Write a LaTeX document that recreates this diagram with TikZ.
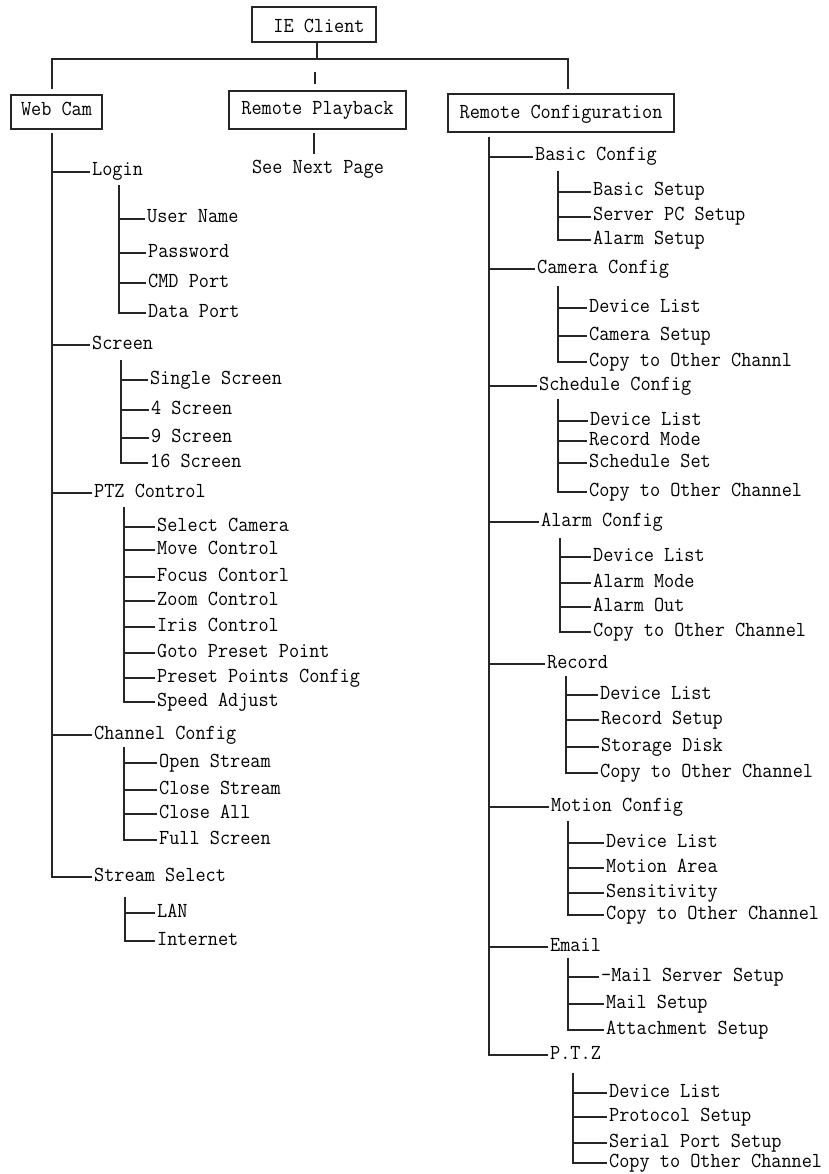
\documentclass[tikz,border=0pt]{standalone}
\usepackage{fontspec}
\newfontfamily\diagfont[FakeStretch=0.92]{Latin Modern Mono}
\begin{document}
\begin{tikzpicture}[x=1pt,y=-1pt,
  every node/.style={font=\fontsize{21.4}{24}\diagfont, text height=11pt, text depth=3pt, text=black},
  lbl/.style={anchor=west, inner xsep=2pt, inner ysep=0pt},
  boxnode/.style={draw=black!85, line width=1.1pt, inner sep=0pt},
  conn/.style={line width=1.1pt, draw=black!85}]
\useasboundingbox (0,0) rectangle (829,1174);
% boxes
\node[boxnode, minimum width=124pt, minimum height=35pt] (ie) at (314,24.5) {\hspace*{10pt}\raisebox{-4pt}{IE Client}};
\node[boxnode, minimum width=91pt, minimum height=34pt] (wc) at (56.5,112) {Web Cam};
\node[boxnode, minimum width=177pt, minimum height=38pt] (rp) at (317.5,110) {\raisebox{-1pt}{Remote Playback}};
\node[boxnode, minimum width=226pt, minimum height=38pt] (rc) at (561,113) {\raisebox{-2pt}{Remote Configuration}};
\node (snp) at (318,170) {See Next Page};
% top connectors
\coordinate (hub) at (317,59);
\coordinate (wcTop) at (52,89);
\coordinate (rcTop) at (568,89);
\coordinate (midA) at (315,72);
\coordinate (midB) at (315,84);
\coordinate (rpA) at (314,133);
\coordinate (rpB) at (314,154);
\draw[conn] (ie.south -| hub) -- (hub);
\draw[conn] (wcTop) |- (hub) -| (rcTop);
\draw[conn] (midA) -- (midB);
\draw[conn] (rpA) -- (rpB);
% bars
\coordinate (wcBar) at (52,133);
\coordinate (rcBar) at (489,137);
\coordinate (loginBar) at (119,185);
\coordinate (screenBar) at (121,360);
\coordinate (ptzBar) at (124,507);
\coordinate (chanBar) at (124,747);
\coordinate (strmBar) at (125,897);
\coordinate (basicBar) at (558,171);
\coordinate (cameraBar) at (558,286);
\coordinate (schedBar) at (558,399);
\coordinate (alarmBar) at (560,538);
\coordinate (recordBar) at (566,676);
\coordinate (motionBar) at (568,821);
\coordinate (emailBar) at (568,958);
\coordinate (pptzBar) at (573,1073);
% Web Cam
\foreach \n/\x/\y/\t in {login/90/172/Login, screen/90/345/Screen, ptz/92/493/PTZ Control, chan/92/735/Channel Config, strm/92/877/Stream Select}
  {\node[lbl] (\n) at (\x,\y) {\t}; \draw[conn] (wcBar) |- (\n.west);}
\foreach \n/\x/\y/\t in {user/145/219/User Name, pass/146/253/Password, cmd/146/283/CMD Port, data/146/313/Data Port}
  {\node[lbl] (\n) at (\x,\y) {\t}; \draw[conn] (loginBar) |- (\n.west);}
\foreach \n/\x/\y/\t in {single/148/380/Single Screen, sfour/149/410/4 Screen, snine/149/438/9 Screen, ssixteen/148/463/16 Screen}
  {\node[lbl] (\n) at (\x,\y) {\t}; \draw[conn] (screenBar) |- (\n.west);}
\foreach \n/\x/\y/\t in {selcam/155/527/Select Camera, movec/155/550/Move Control, focusc/155/577/Focus Contorl, zoomc/155/601/Zoom Control, irisc/155/627/Iris Control, gotop/155/653/Goto Preset Point, presetc/155/678/Preset Points Config, speeda/155/702/Speed Adjust}
  {\node[lbl] (\n) at (\x,\y) {\t}; \draw[conn] (ptzBar) |- (\n.west);}
\foreach \n/\x/\y/\t in {opens/157/763/Open Stream, closes/157/790/Close Stream, closea/157/814/Close All, fulls/157/840/Full Screen}
  {\node[lbl] (\n) at (\x,\y) {\t}; \draw[conn] (chanBar) |- (\n.west);}
\foreach \n/\x/\y/\t in {lan/155/913/LAN, inet/155/941/Internet}
  {\node[lbl] (\n) at (\x,\y) {\t}; \draw[conn] (strmBar) |- (\n.west);}
% Remote Configuration
\foreach \n/\x/\y/\t in {basic/533/157/Basic Config, camera/535/269/Camera Config, sched/537/386/Schedule Config, alarm/539/522/Alarm Config, record/545/664/Record, motion/549/807/Motion Config, email/548/947/Email, pptz/548/1055/P.T.Z}
  {\node[lbl] (\n) at (\x,\y) {\t}; \draw[conn] (rcBar) |- (\n.west);}
\foreach \n/\x/\y/\t in {bsetup/591/192/Basic Setup, spc/591/217/Server PC Setup, asetup/591/240/Alarm Setup}
  {\node[lbl] (\n) at (\x,\y) {\t}; \draw[conn] (basicBar) |- (\n.west);}
\foreach \n/\x/\y/\t in {cdl/587/308/Device List, csetup/587/336/Camera Setup, ccopy/587/362/Copy to Other Channl}
  {\node[lbl] (\n) at (\x,\y) {\t}; \draw[conn] (cameraBar) |- (\n.west);}
\foreach \n/\x/\y/\t in {sdl/588/421/Device List, srm/587/441/Record Mode, sss/587/463/Schedule Set, scopy/587/492/Copy to Other Channel}
  {\node[lbl] (\n) at (\x,\y) {\t}; \draw[conn] (schedBar) |- (\n.west);}
\foreach \n/\x/\y/\t in {adl/591/557/Device List, amode/591/583/Alarm Mode, aout/591/607/Alarm Out, acopy/591/632/Copy to Other Channel}
  {\node[lbl] (\n) at (\x,\y) {\t}; \draw[conn] (alarmBar) |- (\n.west);}
\foreach \n/\x/\y/\t in {rdl/598/695/Device List, rsetup/599/720/Record Setup, rdisk/599/747/Storage Disk, rcopy/598/773/Copy to Other Channel}
  {\node[lbl] (\n) at (\x,\y) {\t}; \draw[conn] (recordBar) |- (\n.west);}
\foreach \n/\x/\y/\t in {mdl/604/843/Device List, marea/604/868/Motion Area, msens/604/893/Sensitivity, mcopy/604/915/Copy to Other Channel}
  {\node[lbl] (\n) at (\x,\y) {\t}; \draw[conn] (motionBar) |- (\n.west);}
\foreach \n/\x/\y/\t in {mss/599/977/-Mail Server Setup, msetup/604/1004/Mail Setup, att/604/1030/Attachment Setup}
  {\node[lbl] (\n) at (\x,\y) {\t}; \draw[conn] (emailBar) |- (\n.west);}
\foreach \n/\x/\y/\t in {pdl/607/1093/Device List, proto/607/1117/Protocol Setup, serial/607/1143/Serial Port Setup, pcopy/607/1163/Copy to Other Channel}
  {\node[lbl] (\n) at (\x,\y) {\t}; \draw[conn] (pptzBar) |- (\n.west);}
\end{tikzpicture}
\end{document}
